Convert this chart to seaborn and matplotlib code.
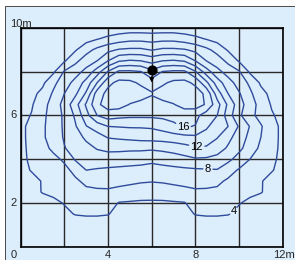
import matplotlib
matplotlib.use("Agg")
import matplotlib.pyplot as plt
from matplotlib.lines import Line2D
from matplotlib.patches import Rectangle
import numpy as np
import seaborn as sns

# grid of the plan (metres)
x_m = [0.0, 0.5, 1.0, 1.5, 2.0, 2.5, 3.0, 3.5, 4.0, 4.5, 5.0, 5.5, 6.0,
       6.5, 7.0, 7.5, 8.0, 8.5, 9.0, 9.5, 10.0, 10.5, 11.0, 11.5, 12.0]
y_m = [10.0, 9.5, 9.0, 8.5, 8.0, 7.5, 7.0, 6.5, 6.0, 5.5, 5.0,
       4.5, 4.0, 3.5, 3.0, 2.5, 2.0, 1.5, 1.0, 0.5, 0.0]

# values, one row per y_m (top row first)
level_grid = [
    [1.0, 1.2, 1.4, 1.6, 1.8, 2.0, 2.2, 2.4, 2.6, 2.8, 2.9, 2.9, 2.9, 2.9, 2.9, 2.8, 2.6, 2.4, 2.2, 2.0, 1.8, 1.6, 1.4, 1.2, 1.0],
    [1.2, 1.5, 1.8, 2.1, 2.5, 2.9, 3.3, 3.9, 4.5, 5.0, 5.4, 5.4, 5.2, 5.4, 5.4, 5.0, 4.5, 3.9, 3.3, 2.9, 2.5, 2.1, 1.8, 1.5, 1.2],
    [1.5, 1.9, 2.3, 2.8, 3.3, 3.8, 5.3, 6.5, 7.5, 8.2, 8.4, 8.4, 7.9, 8.4, 8.4, 8.2, 7.5, 6.5, 5.3, 3.8, 3.3, 2.8, 2.3, 1.9, 1.5],
    [1.8, 2.3, 2.8, 3.3, 3.8, 5.5, 7.0, 8.0, 10.0, 11.8, 12.2, 12.0, 11.3, 12.0, 12.2, 11.8, 10.0, 8.0, 7.0, 5.5, 3.8, 3.3, 2.8, 2.3, 1.8],
    [2.2, 2.7, 3.1, 3.7, 6.2, 7.2, 8.6, 11.0, 14.2, 16.4, 16.4, 16.1, 14.6, 16.1, 16.4, 16.4, 14.2, 11.0, 8.6, 7.2, 6.2, 3.7, 3.1, 2.7, 2.2],
    [2.6, 3.1, 3.6, 5.5, 7.1, 8.6, 10.7, 14.0, 17.5, 18.5, 18.4, 17.7, 16.9, 17.7, 18.4, 18.5, 17.6, 14.5, 11.0, 8.8, 7.2, 5.6, 3.7, 3.1, 2.6],
    [3.0, 3.5, 4.5, 6.3, 8.0, 9.6, 12.3, 17.0, 18.6, 19.3, 19.2, 18.8, 18.2, 18.8, 19.2, 19.3, 18.9, 17.6, 13.0, 10.0, 8.2, 6.4, 4.6, 3.5, 3.0],
    [3.3, 3.8, 5.3, 6.8, 8.7, 11.2, 14.3, 17.6, 18.9, 18.9, 17.9, 17.5, 17.1, 17.5, 17.9, 18.8, 18.9, 17.8, 14.8, 11.6, 8.9, 6.9, 5.3, 3.8, 3.3],
    [3.4, 4.1, 5.5, 7.0, 8.3, 10.3, 13.3, 16.0, 17.0, 16.6, 16.4, 16.4, 16.4, 16.5, 16.6, 16.8, 16.6, 15.0, 14.0, 11.0, 8.4, 6.6, 5.3, 4.2, 3.4],
    [3.6, 4.5, 5.7, 6.9, 8.3, 9.8, 11.9, 12.9, 14.0, 14.1, 14.2, 14.2, 14.3, 14.8, 15.6, 16.2, 15.9, 14.3, 13.0, 12.0, 9.8, 7.9, 6.2, 4.6, 3.6],
    [3.6, 4.5, 5.7, 6.9, 8.2, 9.3, 10.3, 11.2, 12.1, 12.3, 12.5, 12.7, 12.8, 12.9, 13.1, 13.4, 13.6, 13.2, 12.1, 10.6, 9.0, 7.5, 6.0, 4.6, 3.6],
    [3.6, 4.4, 5.4, 6.4, 7.9, 8.7, 9.5, 10.1, 10.5, 10.5, 10.4, 10.4, 10.3, 10.5, 10.8, 11.2, 11.7, 11.7, 11.0, 9.7, 8.5, 7.0, 5.6, 4.5, 3.6],
    [3.6, 4.3, 5.0, 5.5, 6.3, 8.2, 8.8, 9.2, 9.0, 8.9, 8.8, 8.7, 8.5, 8.7, 9.0, 9.4, 9.8, 9.7, 9.3, 8.5, 7.2, 6.0, 5.0, 4.3, 3.6],
    [3.5, 4.1, 4.4, 5.0, 5.5, 6.5, 8.0, 7.8, 7.7, 7.6, 7.5, 7.4, 7.2, 7.4, 7.5, 7.6, 7.7, 7.8, 7.9, 6.8, 5.8, 5.0, 4.4, 4.1, 3.5],
    [3.0, 3.5, 4.1, 4.7, 5.2, 5.7, 6.4, 6.6, 6.7, 6.6, 6.4, 6.2, 6.1, 6.2, 6.4, 6.6, 6.7, 6.6, 6.4, 5.7, 5.2, 4.7, 4.1, 3.5, 3.0],
    [2.8, 3.4, 4.1, 4.4, 4.8, 5.3, 5.6, 5.7, 5.7, 5.4, 5.2, 5.0, 4.9, 5.0, 5.2, 5.4, 5.7, 5.7, 5.6, 5.3, 4.8, 4.4, 4.1, 3.4, 2.8],
    [2.3, 2.7, 3.2, 3.6, 4.1, 4.8, 4.9, 4.9, 4.8, 3.9, 3.8, 3.7, 3.7, 3.7, 3.8, 3.9, 4.8, 4.9, 4.9, 4.8, 4.1, 3.6, 3.2, 2.7, 2.3],
    [2.0, 2.4, 2.8, 3.2, 3.6, 4.1, 4.2, 4.2, 4.1, 3.4, 3.2, 3.2, 3.2, 3.2, 3.2, 3.4, 4.1, 4.2, 4.2, 4.1, 3.6, 3.2, 2.8, 2.4, 2.0],
    [1.8, 2.1, 2.4, 2.7, 2.9, 3.1, 3.2, 3.2, 3.1, 2.7, 2.6, 2.6, 2.6, 2.6, 2.6, 2.7, 3.1, 3.2, 3.2, 3.1, 2.9, 2.7, 2.4, 2.1, 1.8],
    [1.6, 1.8, 2.0, 2.2, 2.3, 2.4, 2.5, 2.5, 2.4, 2.2, 2.1, 2.1, 2.1, 2.1, 2.1, 2.2, 2.4, 2.5, 2.5, 2.4, 2.3, 2.2, 2.0, 1.8, 1.6],
    [1.4, 1.5, 1.6, 1.7, 1.8, 1.9, 2.0, 2.0, 1.9, 1.8, 1.7, 1.7, 1.7, 1.7, 1.7, 1.8, 1.9, 2.0, 2.0, 1.9, 1.8, 1.7, 1.6, 1.5, 1.4],
]

labelled_levels = [4, 8, 12, 16]
plain_levels = [6, 10, 14, 18]
label_spots = [(9.78, 1.6), (8.58, 3.7), (8.06, 4.65), (7.45, 5.55)]
source_x, source_y = 6.0, 8.1

bottom_ticks = [4, 8]
left_ticks = [2, 6]

panel_blue = "#dcedfb"
line_blue = "#2f4b9c"

sns.set_theme(style="white")
plt.rcParams["font.family"] = ["Liberation Sans", "DejaVu Sans"]

W, H = 295, 260
fig = plt.figure(figsize=(W / 100, H / 100), dpi=100)
fig.patch.set_facecolor("white")

# light blue panel with dark top and left edge (behind the axes)
fig.patches.append(Rectangle((6 / W, 0), 1 - 6 / W, 1 - 7 / H, transform=fig.transFigure,
                             facecolor=panel_blue, edgecolor="none", zorder=-1))
fig.lines.append(Line2D([6 / W, 1], [1 - 7 / H, 1 - 7 / H], transform=fig.transFigure,
                        color="#4a4a4a", lw=1.4, zorder=-1))
fig.lines.append(Line2D([6 / W, 6 / W], [0, 1 - 7 / H], transform=fig.transFigure,
                        color="#4a4a4a", lw=1.4, zorder=-1))

ax = fig.add_axes([20.7 / W, 1 - 246.7 / H, 262 / W, 218.7 / H])
ax.set_facecolor(panel_blue)

X, Y = np.meshgrid(np.array(x_m), np.array(y_m))
Z = np.array(level_grid)
cs_plain = ax.contour(X, Y, Z, levels=plain_levels, colors=line_blue, linewidths=1.0)
cs = ax.contour(X, Y, Z, levels=labelled_levels, colors=line_blue, linewidths=1.0)
for c in (cs_plain, cs):
    c.set_joinstyle("round")
    c.set_capstyle("round")
labels = ax.clabel(cs, manual=label_spots, inline=True, inline_spacing=2,
                   fmt="%d", fontsize=8, colors="black")
for t in labels:
    t.set_rotation(0)

# source with its direction
ax.scatter([source_x], [source_y], s=40, color="black", zorder=5)
ax.annotate("", xy=(source_x, source_y - 0.72), xytext=(source_x, source_y - 0.2),
            arrowprops=dict(arrowstyle="-|>", color="black", lw=0.9, mutation_scale=6))

ax.set_xlim(0, 12)
ax.set_ylim(0, 10)
ax.set_xticks(range(0, 13, 2))
ax.set_yticks(range(0, 11, 2))
ax.set_xticklabels([])
ax.set_yticklabels([])
ax.tick_params(length=0)
ax.grid(True, color="#2a2a2a", lw=1.0)
for s in ax.spines.values():
    s.set_color("black")
    s.set_linewidth(1.2)

for t in bottom_ticks:
    ax.text(t, -0.15, str(t), ha="center", va="top", fontsize=8, clip_on=False)
ax.text(-0.3, -0.15, "0", ha="center", va="top", fontsize=8, clip_on=False)
ax.text(12.05, -0.15, "12m", ha="center", va="top", fontsize=8, clip_on=False)
for t in left_ticks:
    ax.text(-0.17, t, str(t), ha="right", va="center", fontsize=8, clip_on=False)
ax.text(-0.5, 10.2, "10m", ha="left", va="center", fontsize=8, clip_on=False)

fig.savefig("out.png", dpi=100)
